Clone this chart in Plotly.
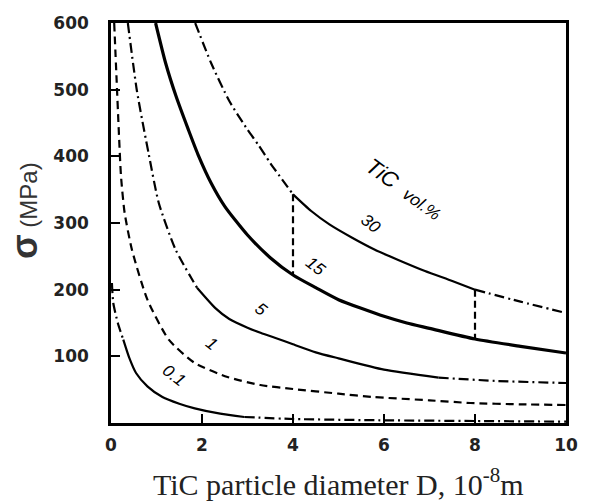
import numpy as np
import plotly.graph_objects as go

# ---- data ----
x_tick_vals = [0, 2, 4, 6, 8, 10]
y_tick_vals = [100, 200, 300, 400, 500, 600]

c30_x = [1.85, 2.2, 2.6, 3.0, 3.23, 3.5, 4.0, 4.4, 4.8, 5.3, 5.8, 6.3, 6.9, 7.5, 8.0, 9.0, 10.0]
c30_y = [600, 540, 483, 440, 418, 390, 343, 318, 298, 278, 260, 245, 228, 213, 200, 182, 165]

c15_x = [0.98, 1.2, 1.43, 1.7, 1.91, 2.2, 2.5, 3.0, 3.5, 4.0, 4.5, 5.0, 6.0, 6.5, 7.0, 8.0, 9.0, 10.0]
c15_y = [600, 540, 490, 440, 403, 360, 325, 282, 248, 222, 203, 185, 160, 150, 142, 126, 115, 105]

c5_x = [0.37, 0.57, 0.83, 1.05, 1.42, 1.89, 2.3, 2.6, 3.0, 3.3, 3.6, 4.0, 4.5, 5.0, 6.0, 7.2, 8.5, 10.0]
c5_y = [600, 498, 403, 330, 260, 203, 172, 156, 143, 135, 128, 118, 106, 97, 80, 68, 63, 60]

c1_x = [0.07, 0.12, 0.17, 0.22, 0.3, 0.46, 0.8, 1.27, 1.84, 2.56, 3.28, 4.0, 5.0, 5.75, 7.0, 7.9, 9.0, 10.0]
c1_y = [600, 520, 440, 370, 315, 260, 185, 125, 90, 69, 57, 51, 44, 39, 34, 30, 28, 27]

c01_x = [0.02, 0.05, 0.15, 0.27, 0.4, 0.55, 0.8, 1.13, 1.5, 1.84, 2.4, 2.93, 4.0, 6.0, 8.0, 10.0]
c01_y = [210, 180, 150, 125, 98, 75, 55, 39, 29, 22, 14, 9, 6, 4, 3, 2]

vline_x = [4, 8]
vline_top = [343, 200]
vline_bottom = [222, 126]

curve_labels = ["30", "15", "5", "1", "0.1"]
label_x = [5.7, 4.5, 3.3, 2.2, 1.38]
label_y = [299, 235, 170, 119, 71]

# ---- styles ----
DASHDOT = "10px,4px,2px,4px"
DASH = "8px,5px"

fig = go.Figure()


def add_curve(xs, ys, segments, width):
    xs = np.asarray(xs, dtype=float)
    ys = np.asarray(ys, dtype=float)
    for lo, hi, dash in segments:
        m = (xs >= lo) & (xs <= hi)
        fig.add_trace(go.Scatter(
            x=xs[m], y=ys[m], mode="lines",
            line=dict(color="black", width=width, dash=dash, shape="spline", smoothing=0.6),
            hoverinfo="skip", showlegend=False))


add_curve(c30_x, c30_y, [(0, 4.0, DASHDOT), (4.0, 8.0, "solid"), (8.0, 10, DASHDOT)], 2.2)
add_curve(c15_x, c15_y, [(0, 10, "solid")], 3.2)
add_curve(c5_x, c5_y, [(0, 1.89, DASHDOT), (1.89, 7.2, "solid"), (7.2, 10, DASHDOT)], 2.2)
add_curve(c1_x, c1_y, [(0, 10, DASH)], 2.2)
add_curve(c01_x, c01_y, [(0, 0.27, DASHDOT), (0.27, 2.93, "solid"), (2.93, 10, DASHDOT)], 2.2)

for vx, vt, vb in zip(vline_x, vline_top, vline_bottom):
    fig.add_trace(go.Scatter(x=[vx, vx], y=[vt, vb], mode="lines",
                             line=dict(color="black", width=2.2, dash="7px,4px"),
                             hoverinfo="skip", showlegend=False))

for t, lx, ly in zip(curve_labels, label_x, label_y):
    fig.add_annotation(x=lx, y=ly, text="<i>" + t + "</i>", showarrow=False,
                       textangle=38, font=dict(family="Liberation Sans", size=17, color="black"))

fig.add_annotation(x=6.45, y=350, text="<i>TiC  <span style='font-size:17px'>vol.%</span></i>",
                   showarrow=False, textangle=36,
                   font=dict(family="Liberation Sans", size=22, color="black"))

# axis titles
fig.add_annotation(xref="paper", yref="paper", x=0, y=0.53, xshift=-87,
                   xanchor="center", yanchor="middle",
                   text="<b><span style='font-size:36px'>σ</span></b> (MPa)",
                   textangle=-90, showarrow=False,
                   font=dict(family="Liberation Sans", size=24, color="#333"))
fig.add_annotation(xref="paper", yref="paper", x=0.5, y=0, yshift=-38, yanchor="top",
                   text="TiC particle diameter D, 10<sup>-8</sup>m", showarrow=False,
                   font=dict(family="Liberation Serif", size=30, color="#222"))

axis_common = dict(showline=True, mirror=True, linecolor="black", linewidth=2.5,
                   ticks="inside", tickcolor="black", tickwidth=2, ticklen=9,
                   showgrid=False, zeroline=False,
                   tickfont=dict(family="DejaVu Sans", size=17, color="#222", weight="bold"))

fig.update_xaxes(range=[0, 10], tickvals=x_tick_vals, ticktext=[str(v) for v in x_tick_vals],
                 ticklabelstandoff=5, **axis_common)
fig.update_yaxes(range=[0, 600], tickvals=y_tick_vals, ticktext=[str(v) for v in y_tick_vals],
                 ticklabelstandoff=16, **axis_common)

fig.update_layout(width=590, height=503, margin=dict(l=111, r=18, t=23, b=80),
                  paper_bgcolor="white", plot_bgcolor="white", showlegend=False,
                  hovermode=False)

fig.write_html("out.html", config={"displayModeBar": False},
               post_script="document.body.style.margin='0';")
